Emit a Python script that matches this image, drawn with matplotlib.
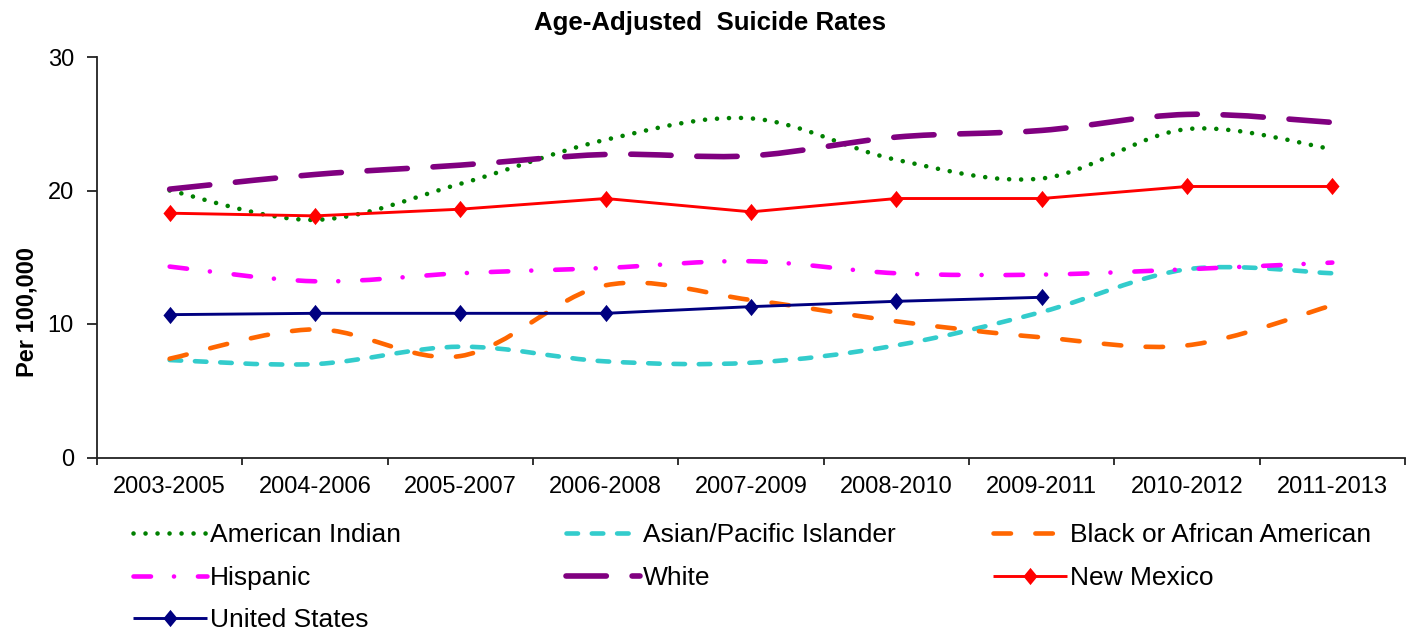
import numpy as np
import matplotlib
matplotlib.use("Agg")
import matplotlib.pyplot as plt
from matplotlib.path import Path
from matplotlib.patches import PathPatch
from matplotlib.lines import Line2D

# ---- data -------------------------------------------------------------
periods = ["2003-2005", "2004-2006", "2005-2007", "2006-2008", "2007-2009",
           "2008-2010", "2009-2011", "2010-2012", "2011-2013"]

american_indian = [20.0, 17.8, 20.5, 23.8, 25.4, 22.3, 20.9, 24.6, 23.1]
asian_pacific = [7.3, 7.0, 8.3, 7.2, 7.1, 8.4, 10.9, 14.1, 13.8]
black_african_american = [7.4, 9.6, 7.6, 12.9, 11.8, 10.2, 9.0, 8.4, 11.4]
hispanic = [14.3, 13.2, 13.8, 14.2, 14.7, 13.8, 13.7, 14.1, 14.6]
white = [20.1, 21.2, 21.9, 22.7, 22.6, 24.0, 24.5, 25.7, 25.1]
new_mexico = [18.3, 18.1, 18.6, 19.4, 18.4, 19.4, 19.4, 20.3, 20.3]
united_states = [10.7, 10.8, 10.8, 10.8, 11.3, 11.7, 12.0]

y_ticks = [0, 10, 20, 30]

# ---- figure -----------------------------------------------------------
W, H, DPI = 1413, 630, 100
plt.rcParams["font.family"] = ["Liberation Sans", "DejaVu Sans"]

fig = plt.figure(figsize=(W / DPI, H / DPI), dpi=DPI)
fig.patch.set_facecolor("white")


def fx(px):
    return px / W


def fy(py):
    return 1 - py / H


ax = fig.add_axes([fx(97), fy(457.5), fx(1405) - fx(97), fy(57) - fy(457.5)])
ax.set_xlim(-0.5, len(periods) - 0.5)
ax.set_ylim(0, 30)

PX = 72 / DPI  # points per pixel


def smooth_path(xs, ys):
    """Cubic Bezier path through every point (Catmull-Rom tangents)."""
    pts = np.column_stack([xs, ys]).astype(float)
    n = len(pts)
    verts = [pts[0]]
    codes = [Path.MOVETO]
    for i in range(n - 1):
        p0 = pts[i - 1] if i > 0 else pts[i]
        p1 = pts[i]
        p2 = pts[i + 1]
        p3 = pts[i + 2] if i + 2 < n else pts[i + 1]
        verts += [p1 + (p2 - p0) / 6, p2 - (p3 - p1) / 6, p2]
        codes += [Path.CURVE4] * 3
    return Path(verts, codes)


# style per smoothed series: colour, width (px), dash pattern (in line widths)
smooth_series = [
    ("American Indian", american_indian, "#008000", 4.6, (0, (0.01, 2.6))),
    ("Asian/Pacific Islander", asian_pacific, "#33CCCC", 4.6, (0, (2.5, 3.0))),
    ("Black or African American", black_african_american, "#FF6600", 4.6, (0, (3.8, 5.3))),
    ("Hispanic", hispanic, "#FF00FF", 4.6, (0, (3.8, 5.0, 0.01, 5.2))),
    ("White", white, "#800080", 5.6, (0, (7.2, 4.6))),
]

x_all = np.arange(len(periods))
for label, vals, color, lw_px, ls in smooth_series:
    patch = PathPatch(smooth_path(x_all[:len(vals)], vals), fill=False,
                      edgecolor=color, linewidth=lw_px * PX, linestyle=ls,
                      capstyle="round", joinstyle="round", zorder=3)
    ax.add_patch(patch)

# diamond marker a little taller than wide
diamond = [(0, 1), (0.82, 0), (0, -1), (-0.82, 0), (0, 1)]

solid_series = [
    ("New Mexico", new_mexico, "#FF0000"),
    ("United States", united_states, "#000080"),
]
for label, vals, color in solid_series:
    ax.plot(x_all[:len(vals)], vals, color=color, linewidth=2.9 * PX,
            marker=diamond, markersize=12.4, markeredgewidth=0,
            markerfacecolor=color, zorder=4, clip_on=False)

# ---- axes styling -----------------------------------------------------
for side in ("top", "right"):
    ax.spines[side].set_visible(False)
for side in ("left", "bottom"):
    ax.spines[side].set_color("#222222")
    ax.spines[side].set_linewidth(1.3)

ax.set_yticks(y_ticks)
ax.tick_params(axis="y", direction="out", length=7.2, width=1.3,
               color="#222222", pad=9.4, labelsize=17, labelcolor="black")

ax.set_xticks(x_all)
ax.set_xticklabels(periods)
ax.tick_params(axis="x", which="major", length=0, pad=13,
               labelsize=17, labelcolor="black")
ax.set_xticks(np.arange(-0.5, len(periods)), minor=True)
ax.tick_params(axis="x", which="minor", direction="out", length=5, width=1.3,
               color="#222222")

fig.text(fx(710), fy(23), "Age-Adjusted  Suicide Rates", ha="center",
         va="center", fontsize=18.6, fontweight="bold", color="black")
fig.text(fx(27), fy(312), "Per 100,000", rotation=90, ha="center",
         va="center", fontsize=17, fontweight="bold", color="black")

# ---- legend -----------------------------------------------------------
col_x = [133, 566, 993]
row_base = [542, 585, 627]
handle_len = 74
text_gap = 77

entries = [(lab, col, ls, lw, None) for lab, _, col, lw, ls in smooth_series]
entries += [(lab, col, "-", 2.9, diamond) for lab, _, col in solid_series]

for i, (label, color, ls, lw_px, marker) in enumerate(entries):
    r, c = divmod(i, 3)
    x0 = col_x[c]
    yb = row_base[r]
    yl = yb - 9.5
    xs = [fx(x0), fx(x0 + handle_len / 2), fx(x0 + handle_len)]
    ys = [fy(yl)] * 3
    line = Line2D(xs, ys, transform=fig.transFigure, color=color,
                  linewidth=lw_px * PX, linestyle=ls,
                  dash_capstyle="round", solid_capstyle="butt")
    if marker is not None:
        line.set_marker(marker)
        line.set_markevery([1])
        line.set_markersize(12.4)
        line.set_markeredgewidth(0)
        line.set_markerfacecolor(color)
    fig.add_artist(line)
    fig.text(fx(x0 + text_gap), fy(yb), label, ha="left", va="baseline",
             fontsize=19, color="black")

fig.savefig("out.png", dpi=DPI, facecolor="white")
